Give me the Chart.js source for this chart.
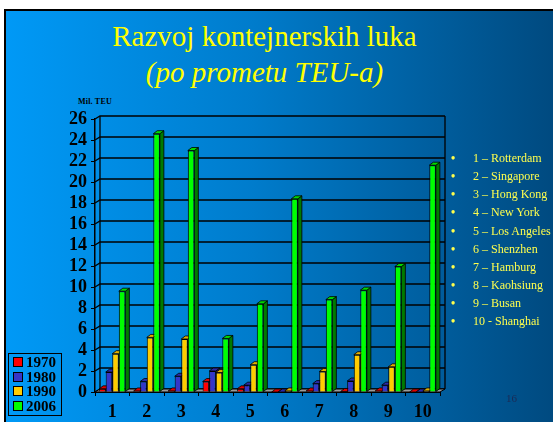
<!DOCTYPE html>
<html>
<head>
<meta charset="utf-8">
<script src="https://cdn.jsdelivr.net/npm/chart.js@4"></script>
<style>
  body { margin: 0; width: 553px; height: 422px; background: #fff; position: relative; overflow: hidden; font-family: "Liberation Serif", "Times New Roman", serif; }
  #slide { position: absolute; left: 4px; top: 9px; right: 0; bottom: 0; border-top: 2px solid #000; border-left: 2px solid #000;
    background: linear-gradient(to right, #0099f6 0%, #007ccc 45%, #004a80 100%); }
  #wrap { position: absolute; left: 0; top: 0; width: 553px; height: 422px; }
  .title { position: absolute; left: 0; width: 529px; text-align: center; color: #ffff00; font-size: 29px; line-height: 29px; white-space: nowrap; }
  #unit { position: absolute; left: 78px; top: 97px; font-size: 8px; font-weight: bold; color: #000; letter-spacing: 0.2px; }
  #legend { position: absolute; left: 8px; top: 353px; width: 52px; height: 60px; border: 1px solid #000; padding-top: 1px; }
  #legend div { height: 14.7px; font-size: 15px; font-weight: bold; line-height: 14.7px; color: #000; white-space: nowrap; }
  #legend span { display: inline-block; width: 8px; height: 8px; border: 1px solid #000; margin: 0 3px 0 4px; vertical-align: 0px; }
  #ports { position: absolute; left: 451px; top: 149px; color: #ffff4d; font-size: 12px; }
  #ports div { height: 18.15px; line-height: 18.15px; white-space: nowrap; }
  #ports b { display: inline-block; width: 22px; font-weight: bold; font-size: 12px; }
  #page { position: absolute; left: 506px; top: 392px; font-size: 11px; color: #1a2a55; }
</style>
</head>
<body>
<div id="slide"></div>
<div class="title" style="top: 22px;">Razvoj kontejnerskih luka</div>
<div class="title" style="top: 58px; font-style: italic;">(po prometu TEU-a)</div>
<div id="unit">Mil. TEU</div>
<div id="wrap"><canvas id="myChart" width="553" height="422"></canvas></div>
<div id="legend"></div>
<div id="ports"></div>
<div id="page">16</div>
<script>
const ports = ["1", "2", "3", "4", "5", "6", "7", "8", "9", "10"];
const portNames = ["1 – Rotterdam", "2 – Singapore", "3 – Hong Kong", "4 – New York", "5 – Los Angeles",
  "6 – Shenzhen", "7 – Hamburg", "8 – Kaohsiung", "9 – Busan", "10 - Shanghai"];
const years = ["1970", "1980", "1990", "2006"];

// mil. TEU
const teu1970 = [0.3, 0.1, 0.1, 1.0, 0.3, 0, 0.1, 0.05, 0.1, 0];
const teu1980 = [1.9, 1.0, 1.5, 2.0, 0.65, 0, 0.8, 1.05, 0.65, 0];
const teu1990 = [3.65, 5.2, 5.05, 1.85, 2.6, 0.1, 1.95, 3.55, 2.4, 0.1];
const teu2006 = [9.6, 24.6, 23.0, 5.1, 8.4, 18.4, 8.8, 9.7, 11.95, 21.6];

const yTicks = [0, 2, 4, 6, 8, 10, 12, 14, 16, 18, 20, 22, 24, 26];

const fronts = ["#ff0000", "#3535c8", "#ffcc00", "#00ff00"];
const tops = ["#e00000", "#2a2aa8", "#e0b000", "#00d800"];
const sides = ["#a00000", "#1c1c80", "#b08800", "#007a00"];

// legend + port list
const legend = document.getElementById("legend");
years.forEach((y, i) => {
  legend.innerHTML += `<div><span style="background:${fronts[i]}"></span>${y}</div>`;
});
const portList = document.getElementById("ports");
portNames.forEach((p) => {
  portList.innerHTML += `<div><b>•</b>${p}</div>`;
});

const wall = { dx: 5, dy: -3 };
const bar3d = { dx: 4, dy: -3 };

// walls, grid and 3d sides of the bars
const box3d = {
  id: "box3d",
  beforeDatasetsDraw(chart) {
    const ctx = chart.ctx;
    const a = chart.chartArea;
    const yScale = chart.scales.y;
    ctx.save();
    ctx.strokeStyle = "#000";
    ctx.lineWidth = 1.3;

    yTicks.forEach((v) => {
      const y = yScale.getPixelForValue(v);
      ctx.beginPath();
      ctx.moveTo(a.left, y);
      ctx.lineTo(a.left + wall.dx, y + wall.dy);
      ctx.lineTo(a.right + wall.dx, y + wall.dy);
      ctx.stroke();
    });
    ctx.beginPath();
    ctx.moveTo(a.left + wall.dx, a.top + wall.dy);
    ctx.lineTo(a.left + wall.dx, a.bottom + wall.dy);
    ctx.moveTo(a.right + wall.dx, a.top + wall.dy);
    ctx.lineTo(a.right + wall.dx, a.bottom + wall.dy);
    ctx.stroke();

    // floor
    ctx.beginPath();
    ctx.moveTo(a.left, a.bottom);
    ctx.lineTo(a.right, a.bottom);
    ctx.lineTo(a.right + wall.dx, a.bottom + wall.dy);
    ctx.lineTo(a.left + wall.dx, a.bottom + wall.dy);
    ctx.closePath();
    ctx.fillStyle = "#9a9a9a";
    ctx.fill();
    ctx.lineWidth = 1;
    ctx.stroke();

    // bar tops and sides, left to right
    ctx.lineWidth = 0.8;
    for (let i = 0; i < ports.length; i++) {
      for (let d = 0; d < chart.data.datasets.length; d++) {
        const el = chart.getDatasetMeta(d).data[i];
        const p = el.getProps(["x", "y", "base", "width"], true);
        const l = p.x - p.width / 2;
        const r = p.x + p.width / 2;
        ctx.beginPath();
        ctx.moveTo(r, p.y);
        ctx.lineTo(r + bar3d.dx, p.y + bar3d.dy);
        ctx.lineTo(r + bar3d.dx, p.base + bar3d.dy);
        ctx.lineTo(r, p.base);
        ctx.closePath();
        ctx.fillStyle = sides[d];
        ctx.fill();
        ctx.stroke();
        ctx.beginPath();
        ctx.moveTo(l, p.y);
        ctx.lineTo(l + bar3d.dx, p.y + bar3d.dy);
        ctx.lineTo(r + bar3d.dx, p.y + bar3d.dy);
        ctx.lineTo(r, p.y);
        ctx.closePath();
        ctx.fillStyle = tops[d];
        ctx.fill();
        ctx.stroke();
      }
    }
    ctx.restore();
  },
};

const ctx = document.getElementById("myChart");
const datasets = [teu1970, teu1980, teu1990, teu2006].map((data, i) => ({
  label: years[i],
  data: data,
  backgroundColor: fronts[i],
  borderColor: "#000",
  borderWidth: 1,
  categoryPercentage: 0.76,
  barPercentage: 1,
}));

const myChart = new Chart(ctx, {
  type: "bar",
  data: { labels: ports, datasets: datasets },
  plugins: [box3d],
  options: {
    responsive: false,
    animation: false,
    layout: { padding: { left: 0, top: 119, right: 113, bottom: 0 } },
    plugins: { legend: { display: false }, tooltip: { enabled: false } },
    scales: {
      x: {
        afterFit: (s) => { s.height = 30; },
        grid: { drawOnChartArea: false, drawTicks: true, tickLength: 4, color: "#000" },
        border: { display: true, color: "#000", width: 1 },
        ticks: { color: "#000", padding: 6, autoSkip: false, maxRotation: 0, font: { family: "Liberation Serif", size: 18, weight: "bold" } },
      },
      y: {
        min: 0,
        max: 26,
        afterFit: (s) => { s.width = 95; },
        afterBuildTicks: (s) => { s.ticks = yTicks.map((v) => ({ value: v })); },
        grid: { drawOnChartArea: false, drawTicks: true, tickLength: 4, color: "#000" },
        border: { display: true, color: "#000", width: 1.5 },
        ticks: { color: "#000", padding: 4, autoSkip: false, font: { family: "Liberation Serif", size: 18, weight: "bold" } },
      },
    },
  },
});
</script>
</body>
</html>
